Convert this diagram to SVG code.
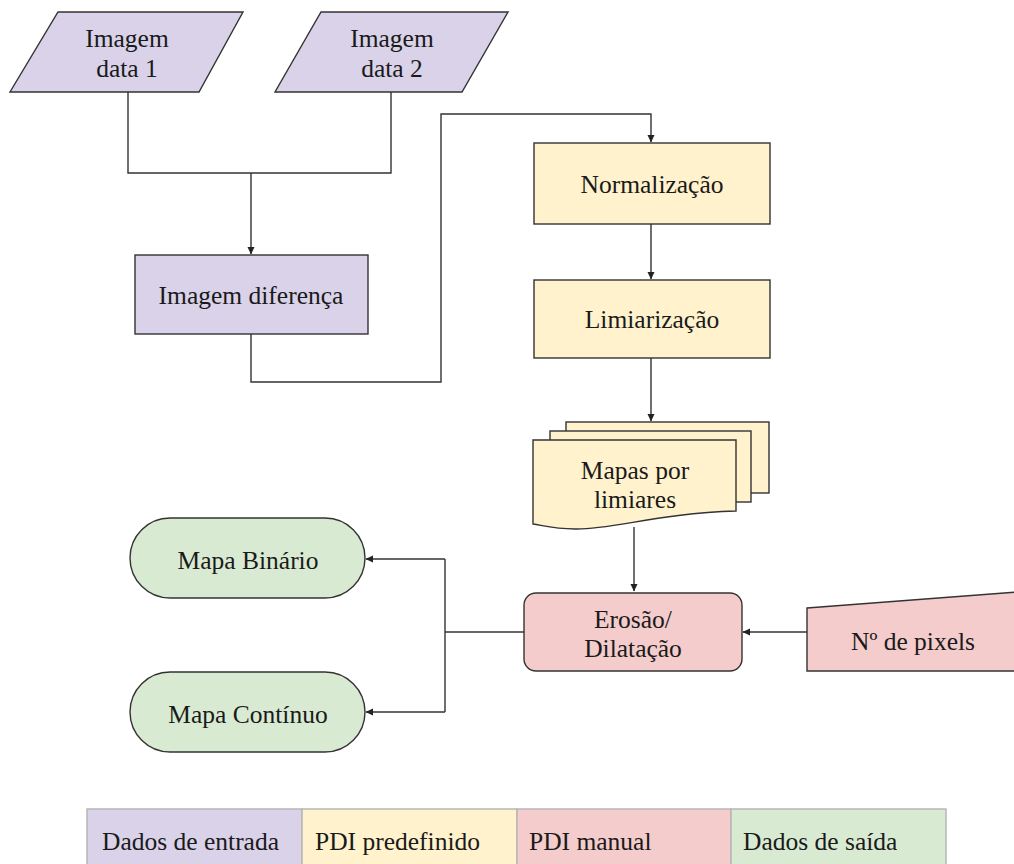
<svg xmlns="http://www.w3.org/2000/svg" width="1014" height="864" viewBox="0 0 1014 864">
<style>
.n{stroke:#333;stroke-width:1.4}
.in{fill:#d9d2e9}
.pre{fill:#fff2cc}
.man{fill:#f4cccc}
.out{fill:#d9ead3}
.c{text-anchor:middle}
.e{fill:none;stroke:#333;stroke-width:1.4}
.lg{stroke:#b7b7b7;stroke-width:1.5}
</style>
<defs>
<marker id="ah" markerWidth="8" markerHeight="8" refX="7" refY="4" orient="auto" markerUnits="userSpaceOnUse">
<path d="M0,0.5 L7.5,4 L0,7.5 Z" fill="#222"/>
</marker>
</defs>
<rect width="1014" height="864" fill="#fff"/>
<g id="connectors">
<path class="e" d="M128,92 V173 H391 V92"/>
<path class="e" d="M251,173 V254" marker-end="url(#ah)"/>
<path class="e" d="M251,334 V382 H441 V114 H651 V142" marker-end="url(#ah)"/>
<path class="e" d="M651,224 V279" marker-end="url(#ah)"/>
<path class="e" d="M651,358 V421" marker-end="url(#ah)"/>
<path class="e" d="M634,527 V591" marker-end="url(#ah)"/>
<path class="e" d="M807,632 H743" marker-end="url(#ah)"/>
<path class="e" d="M524,632 H445"/>
<path class="e" d="M445,559 V712"/>
<path class="e" d="M445,559 H366" marker-end="url(#ah)"/>
<path class="e" d="M445,712 H366" marker-end="url(#ah)"/>
</g>
<g font-family="Liberation Serif, DejaVu Serif, serif" font-size="25.5" fill="#1a1a1a">
<g id="img1">
<polygon class="n in" points="58,12 243,12 199,92 10,92"/>
<text class="c" x="127" y="47">Imagem</text>
<text class="c" x="127" y="77">data 1</text>
</g>
<g id="img2">
<polygon class="n in" points="321,12 508,12 462,92 275,92"/>
<text class="c" x="392" y="47">Imagem</text>
<text class="c" x="392" y="77">data 2</text>
</g>
<g id="diff">
<rect class="n in" x="135" y="255" width="233" height="79"/>
<text class="c" x="251" y="304">Imagem diferença</text>
</g>
<g id="norm">
<rect class="n pre" x="534" y="143" width="236" height="81"/>
<text class="c" x="652" y="193">Normalização</text>
</g>
<g id="limiar">
<rect class="n pre" x="534" y="280" width="236" height="78"/>
<text class="c" x="652" y="328">Limiarização</text>
</g>
<g id="mapas">
<rect class="n pre" x="566" y="422" width="203" height="71"/>
<rect class="n pre" x="550" y="431" width="201" height="71"/>
<path class="n pre" d="M533,440 H736 V511 C660,513 610,530 575,529 C555,529 545,526 533,524 Z"/>
<text class="c" x="635" y="479">Mapas por</text>
<text class="c" x="635" y="508">limiares</text>
</g>
<g id="erosao">
<rect class="n man" x="524" y="593" width="218" height="78" rx="12"/>
<text class="c" x="633" y="628">Erosão/</text>
<text class="c" x="633" y="657">Dilatação</text>
</g>
<g id="npixels">
<polygon class="n man" points="807,608 1030,591 1030,671 807,671"/>
<text class="c" x="913" y="650">Nº de pixels</text>
</g>
<g id="binario">
<rect class="n out" x="130" y="518" width="235" height="80" rx="40"/>
<text class="c" x="248" y="569">Mapa Binário</text>
</g>
<g id="continuo">
<rect class="n out" x="130" y="672" width="235" height="80" rx="40"/>
<text class="c" x="248" y="723">Mapa Contínuo</text>
</g>
<g id="legend">
<rect class="lg in" x="87" y="809" width="215" height="60"/>
<rect class="lg pre" x="302" y="809" width="215" height="60"/>
<rect class="lg man" x="517" y="809" width="214" height="60"/>
<rect class="lg out" x="731" y="809" width="215" height="60"/>
<text x="102" y="850">Dados de entrada</text>
<text x="315" y="850">PDI predefinido</text>
<text x="529" y="850">PDI manual</text>
<text x="743" y="850">Dados de saída</text>
</g>
</g>
</svg>
